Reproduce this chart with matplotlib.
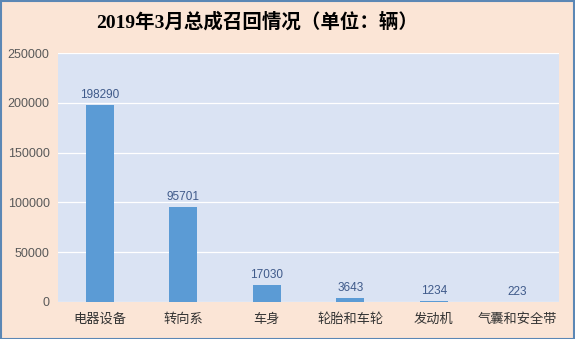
import matplotlib
matplotlib.use("Agg")
import matplotlib.pyplot as plt
from matplotlib.patches import Rectangle

categories = ["电器设备", "转向系", "车身", "轮胎和车轮", "发动机", "气囊和安全带"]
values = [198290, 95701, 17030, 3643, 1234, 223]
yticks = [0, 50000, 100000, 150000, 200000, 250000]
title = "2019年3月总成召回情况（单位：辆）"

plt.rcParams['font.family'] = ['Noto Sans CJK SC', 'DejaVu Sans']

fig = plt.figure(figsize=(5.75, 3.39), dpi=100, facecolor="#FBE5D6")
ax = fig.add_axes([58 / 575, 1 - 302 / 339, (559 - 58) / 575, (302 - 53) / 339])
ax.set_facecolor("#DAE3F3")

x = list(range(len(categories)))
ax.bar(x, values, width=0.33, color="#5B9BD5", zorder=3)
for xi, v in zip(x, values):
    ax.text(xi, v + 4000, str(v), ha="center", va="bottom", fontsize=8.5,
            color="#3F5A8A", family=["Arial", "Liberation Sans", "DejaVu Sans"], zorder=4)

ax.set_xlim(-0.5, len(categories) - 0.5)
ax.set_ylim(0, 250000)
ax.set_yticks(yticks)
ax.set_yticklabels([str(t) for t in yticks], family=["Liberation Sans", "DejaVu Sans"],
                   fontsize=9, color="#595959")
ax.set_xticks(x)
ax.set_xticklabels(categories, fontsize=9.5, color="#333333")
ax.tick_params(axis="both", length=0, pad=6)
ax.tick_params(axis="x", pad=8)
ax.yaxis.grid(True, color="white", linewidth=0.9, zorder=0)
for s in ax.spines.values():
    s.set_visible(False)

fig.text(257 / 575, 1 - 22 / 339, title, ha="center", va="center", fontsize=14, fontweight="bold",
         family=["Liberation Serif", "Noto Sans CJK SC"], color="black")

fig.patches.append(Rectangle((0.5 / 575, 0.5 / 339), 1 - 1.5 / 575, 1 - 1.5 / 339,
                             transform=fig.transFigure, fill=False,
                             edgecolor="#5B87B5", linewidth=1.5))

fig.savefig("out.png", dpi=100, facecolor=fig.get_facecolor())
